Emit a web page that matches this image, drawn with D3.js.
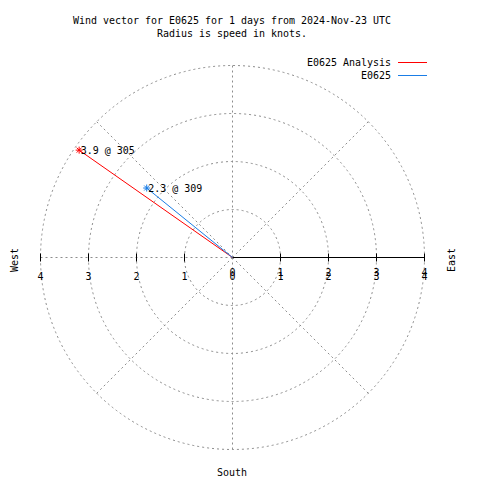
<!DOCTYPE html>
<html><head><meta charset="utf-8">
<script src="https://cdn.jsdelivr.net/npm/d3@7"></script>
<style>body{margin:0;background:#fff}svg{display:block}</style>
</head><body>
<svg id="c" width="480" height="480"></svg>
<script>
const titleLines = ["Wind vector for E0625 for 1 days from 2024-Nov-23 UTC", "Radius is speed in knots."];
const seriesNames = ["E0625 Analysis", "E0625"];
const seriesColors = ["#ff0000", "#1a7de6"];
const speeds = [3.9, 2.3];
const directions = [305, 309];
const radialTicks = [0, 1, 2, 3, 4];
const spokeAngles = [0, 45, 90, 135, 180, 225, 270, 315];
const compassLabels = ["West", "East", "South"];

const svg = d3.select("#c");
const cx = 232.5, cy = 257.5;
const r = d3.scaleLinear().domain([0, 4]).range([0, 192]);
const FONT = "'DejaVu Sans Mono', monospace";
const CW = 6;

function txt(g, s, x, y, anchor, fill) {
  return g.append("text").attr("x", x).attr("y", y)
    .attr("text-anchor", anchor || "start")
    .attr("font-family", FONT).attr("font-size", 11)
    .attr("textLength", s.length * CW).attr("lengthAdjust", "spacingAndGlyphs")
    .attr("fill", fill || "#000").text(s);
}

// Title
txt(svg, titleLines[0], 232, 24, "middle");
txt(svg, titleLines[1], 232, 37, "middle");

const plot = svg.append("g").attr("transform", `translate(${cx},${cy})`);
const grid = plot.append("g").attr("fill", "none").attr("stroke", "#8c8c8c")
  .attr("stroke-width", 1).attr("stroke-dasharray", "2,3");

// circles
grid.selectAll("circle").data(radialTicks.filter(d => d > 0)).join("circle")
  .attr("r", d => r(d));

// spokes
grid.selectAll("line").data(spokeAngles).join("line")
  .attr("x1", 0).attr("y1", 0)
  .attr("x2", a => r(4) * Math.sin(a * Math.PI / 180))
  .attr("y2", a => -r(4) * Math.cos(a * Math.PI / 180));

// solid r-axis to the east
plot.append("line").attr("x1", 0).attr("y1", 0).attr("x2", r(4)).attr("y2", 0)
  .attr("stroke", "#000").attr("stroke-width", 1);

// ticks east and west
const tickVals = radialTicks.filter(d => d > 0);
plot.selectAll("line.te").data(tickVals).join("line").attr("class", "te")
  .attr("x1", d => r(d)).attr("x2", d => r(d)).attr("y1", -4).attr("y2", 4)
  .attr("stroke", "#000");
plot.selectAll("line.tw").data(tickVals).join("line").attr("class", "tw")
  .attr("x1", d => -r(d)).attr("x2", d => -r(d)).attr("y1", -4).attr("y2", 4)
  .attr("stroke", "#000");

// tick labels (west axis, and the doubled east axis labels as in the reference)
radialTicks.forEach(d => {
  if (d > 0) txt(plot, String(d), -r(d), 22.5, "middle");
  txt(plot, String(d), r(d), 22.5, "middle");
  txt(plot, String(d), r(d), 18.5, "middle");
});

// vectors
const pts = speeds.map((s, i) => {
  const a = directions[i] * Math.PI / 180;
  return { x: r(s) * Math.sin(a), y: -r(s) * Math.cos(a), s, d: directions[i], c: seriesColors[i] };
});
pts.forEach(p => {
  plot.append("line").attr("x1", 0).attr("y1", 0).attr("x2", p.x).attr("y2", p.y)
    .attr("stroke", p.c).attr("stroke-width", 1);
});
pts.forEach(p => {
  const m = plot.append("g").attr("transform", `translate(${p.x},${p.y})`)
    .attr("stroke", p.c).attr("stroke-width", 1);
  m.append("line").attr("x1", -3.5).attr("x2", 3.5).attr("y1", 0).attr("y2", 0);
  m.append("line").attr("x1", 0).attr("x2", 0).attr("y1", -3.5).attr("y2", 3.5);
  m.append("line").attr("x1", -2.5).attr("x2", 2.5).attr("y1", -2.5).attr("y2", 2.5);
  m.append("line").attr("x1", -2.5).attr("x2", 2.5).attr("y1", 2.5).attr("y2", -2.5);
  txt(plot, `${p.s} @ ${p.d}`, p.x + 1.5, p.y + 3.5, "start");
});

// legend
seriesNames.forEach((n, i) => {
  const y = 66 + i * 13;
  txt(svg, n, 391, y, "end");
  svg.append("line").attr("x1", 398).attr("x2", 427).attr("y1", y - 3.5).attr("y2", y - 3.5)
    .attr("stroke", seriesColors[i]).attr("stroke-width", 1);
});

// compass labels
txt(svg, compassLabels[0], 0, 0, "middle").attr("transform", "translate(18,260) rotate(-90)");
txt(svg, compassLabels[1], 0, 0, "middle").attr("transform", "translate(455,260) rotate(-90)");
txt(svg, compassLabels[2], 232, 476, "middle");
</script>
</body></html>
